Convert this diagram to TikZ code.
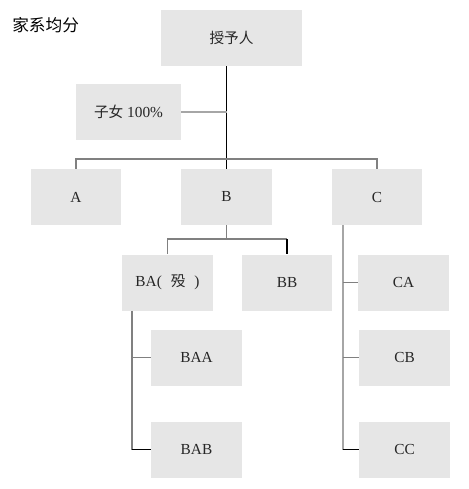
\documentclass[tikz,border=0pt]{standalone}
\usepackage{fontspec}
\setmainfont{Liberation Serif}
\newfontfamily\cjk{Noto Sans CJK SC}
\definecolor{boxfill}{HTML}{E6E6E6}
\definecolor{lgray}{HTML}{A6A6A6}
\definecolor{mgray}{HTML}{808080}
\definecolor{txt}{HTML}{262626}
\begin{document}
\begin{tikzpicture}[x=0.75pt,y=-0.75pt,
  box/.style={fill=boxfill,draw=none,inner sep=0pt,minimum height=42pt,minimum width=68pt,text=txt,font=\fontsize{11.5pt}{13pt}\selectfont},
  conl/.style={draw=lgray,line width=0.8pt},
  conm/.style={draw=mgray,line width=0.8pt},
  conk/.style={draw=black,line width=0.8pt}]
\useasboundingbox (0,0) rectangle (468,489);
\node[anchor=west,inner sep=0pt,text=black,font=\fontsize{12.5pt}{14pt}\selectfont\cjk] (title) at (12,25) {家系均分};
\node[box,minimum width=105.75pt] (giver) at (231.5,38) {{\cjk\fontsize{11pt}{13pt}\selectfont 授予人}};
\node[box,minimum width=78.75pt] (kids) at (128.5,112) {{\cjk\fontsize{11pt}{13pt}\selectfont 子女} 100\%};
\node[box] (A) at (76,197) {A};
\node[box] (B) at (226.5,197) {B};
\node[box] (C) at (377,197) {C};
\node[box] (BA) at (167.5,282.5) {BA(\,\, {\cjk\fontsize{11pt}{13pt}\selectfont 殁}\,\, )};
\node[box] (BB) at (287,282.5) {BB};
\node[box] (CA) at (403.5,282.5) {CA};
\node[box] (BAA) at (196.5,357.5) {BAA};
\node[box] (BAB) at (196.5,449.5) {BAB};
\node[box] (CB) at (404.5,357.5) {CB};
\node[box] (CC) at (404.5,449.5) {CC};
% trunk
\draw[conk] (B.north) -- (B.north |- giver.south);
\coordinate (kj) at (B.north |- kids.east);
\draw[conl] (kids.east) -- (kj);
\coordinate (bus) at (0,159);
\draw[conm] (A.north) -- (A.north |- bus) -- (C.north |- bus) -- (C.north);
% B children
\coordinate (bbus) at (0,239);
\draw[conm] (B.south) -- (B.south |- bbus);
\draw[conm] (BA.north) -- (BA.north |- bbus) -- (BB.north |- bbus);
\draw[conk] (BB.north |- bbus) -- (BB.north);
% BA children
\coordinate (bax) at (132,0);
\draw[conm] (bax |- BA.south) -- (bax |- BAB.west);
\draw[conm] (bax |- BAA.west) -- (BAA.west);
\draw[conk] (bax |- BAB.west) -- (BAB.west);
% C children
\coordinate (cx) at (343,0);
\draw[conl] (cx |- C.south) -- (cx |- CC.west);
\draw[conm] (cx |- CA.west) -- (CA.west);
\draw[conm] (cx |- CB.west) -- (CB.west);
\draw[conk] (cx |- CC.west) -- (CC.west);
\end{tikzpicture}
\end{document}
